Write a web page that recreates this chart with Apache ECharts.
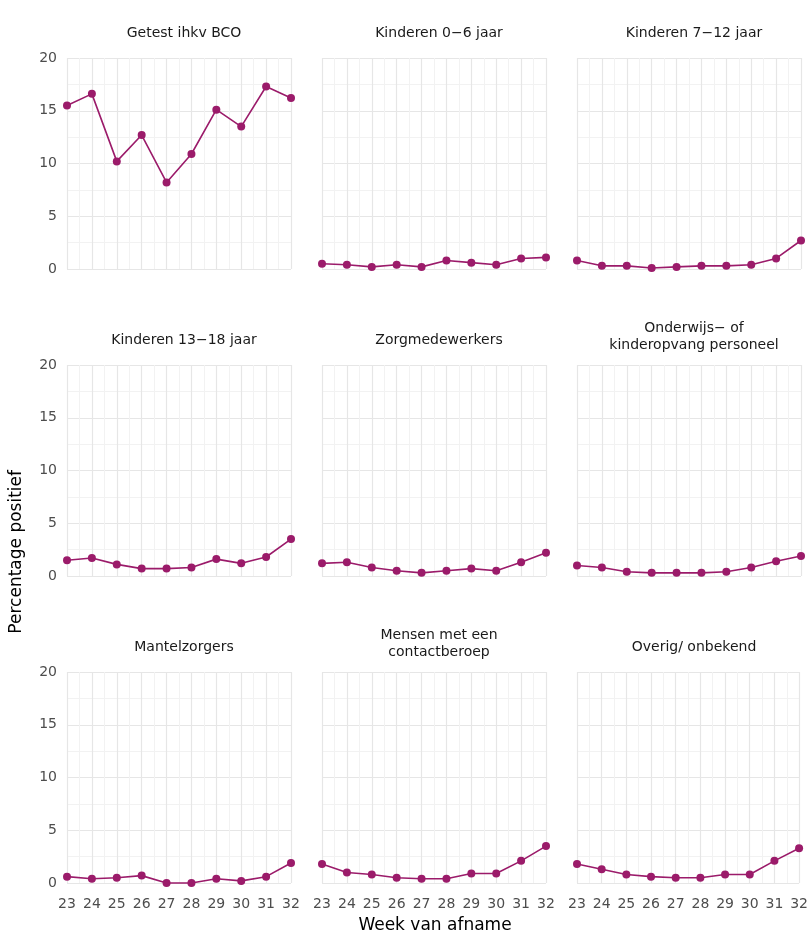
<!DOCTYPE html>
<html><head><meta charset="utf-8">
<script src="https://cdn.jsdelivr.net/npm/echarts@6/dist/echarts.min.js"></script>
<style>body{margin:0;background:#fff}#c{width:811px;height:944px}</style>
</head><body><div id="c"></div>
<script>
var weeks = [23, 24, 25, 26, 27, 28, 29, 30, 31, 32];
var titles = ['Getest ihkv BCO', 'Kinderen 0\u22126 jaar', 'Kinderen 7\u221212 jaar',
  'Kinderen 13\u221218 jaar', 'Zorgmedewerkers', 'Onderwijs\u2212 of\nkinderopvang personeel',
  'Mantelzorgers', 'Mensen met een\ncontactberoep', 'Overig/ onbekend'];
var bco = [15.5, 16.6, 10.2, 12.7, 8.2, 10.9, 15.1, 13.5, 17.3, 16.2];
var kind06 = [0.5, 0.4, 0.2, 0.4, 0.2, 0.8, 0.6, 0.4, 1.0, 1.1];
var kind712 = [0.8, 0.3, 0.3, 0.1, 0.2, 0.3, 0.3, 0.4, 1.0, 2.7];
var kind1318 = [1.5, 1.7, 1.1, 0.7, 0.7, 0.8, 1.6, 1.2, 1.8, 3.5];
var zorg = [1.2, 1.3, 0.8, 0.5, 0.3, 0.5, 0.7, 0.5, 1.3, 2.2];
var onderwijs = [1.0, 0.8, 0.4, 0.3, 0.3, 0.3, 0.4, 0.8, 1.4, 1.9];
var mantel = [0.6, 0.4, 0.5, 0.7, 0, 0, 0.4, 0.2, 0.6, 1.9];
var contact = [1.8, 1.0, 0.8, 0.5, 0.4, 0.4, 0.9, 0.9, 2.1, 3.5];
var overig = [1.8, 1.3, 0.8, 0.6, 0.5, 0.5, 0.8, 0.8, 2.1, 3.3];
var allData = [bco, kind06, kind712, kind1318, zorg, onderwijs, mantel, contact, overig];

var colLeft = [67, 322, 577];
var rowTop = [58, 365, 672];
var W = 224, H = 211;
var color = '#9b1b6a';
var grids = [], xAxes = [], yAxes = [], series = [], titleArr = [];
allData.forEach(function (d, i) {
  var r = Math.floor(i / 3), c = i % 3;
  grids.push({left: colLeft[c], top: rowTop[r], width: W, height: H});
  xAxes.push({type: 'value', gridIndex: i, min: 23, max: 32, interval: 1,
    axisLine: {show: false}, axisTick: {show: false},
    axisLabel: {show: r === 2, color: '#4d4d4d', fontSize: 14, margin: 14},
    splitLine: {lineStyle: {color: '#e6e6e6', width: 1.2}},
    minorTick: {show: false, splitNumber: 2},
    minorSplitLine: {show: true, lineStyle: {color: '#f2f2f2'}}});
  yAxes.push({type: 'value', gridIndex: i, min: 0, max: 20, interval: 5,
    axisLine: {show: false}, axisTick: {show: false},
    axisLabel: {show: c === 0, color: '#4d4d4d', fontSize: 14, margin: 10},
    splitLine: {lineStyle: {color: '#e6e6e6', width: 1.2}},
    minorTick: {show: false, splitNumber: 2},
    minorSplitLine: {show: true, lineStyle: {color: '#f2f2f2'}}});
  series.push({type: 'line', xAxisIndex: i, yAxisIndex: i, clip: false,
    data: weeks.map(function (w, k) { return [w, d[k]]; }),
    symbol: 'circle', symbolSize: 8, color: color,
    lineStyle: {width: 1.6, color: color}, itemStyle: {color: color}});
  var two = titles[i].indexOf('\n') >= 0;
  titleArr.push({text: titles[i], left: colLeft[c] + W / 2, textAlign: 'center',
    top: rowTop[r] - (two ? 50 : 38),
    textStyle: {fontSize: 14, fontWeight: 'normal', color: '#1a1a1a', lineHeight: 17, fontFamily: 'DejaVu Sans'}});
});
titleArr.push({text: 'Week van afname', left: 430, textAlign: 'center', top: 912,
  textStyle: {fontSize: 17, fontWeight: 'normal', color: '#000', fontFamily: 'DejaVu Sans'}});
var chart = echarts.init(document.getElementById('c'));
chart.setOption({
  animation: false,
  textStyle: {fontFamily: 'DejaVu Sans'},
  title: titleArr,
  grid: grids, xAxis: xAxes, yAxis: yAxes, series: series,
  graphic: [{type: 'text', left: 8, top: 470, rotation: Math.PI / 2,
    style: {text: 'Percentage positief', fontSize: 17, fill: '#000', fontFamily: 'DejaVu Sans'}}]
});
</script></body></html>
